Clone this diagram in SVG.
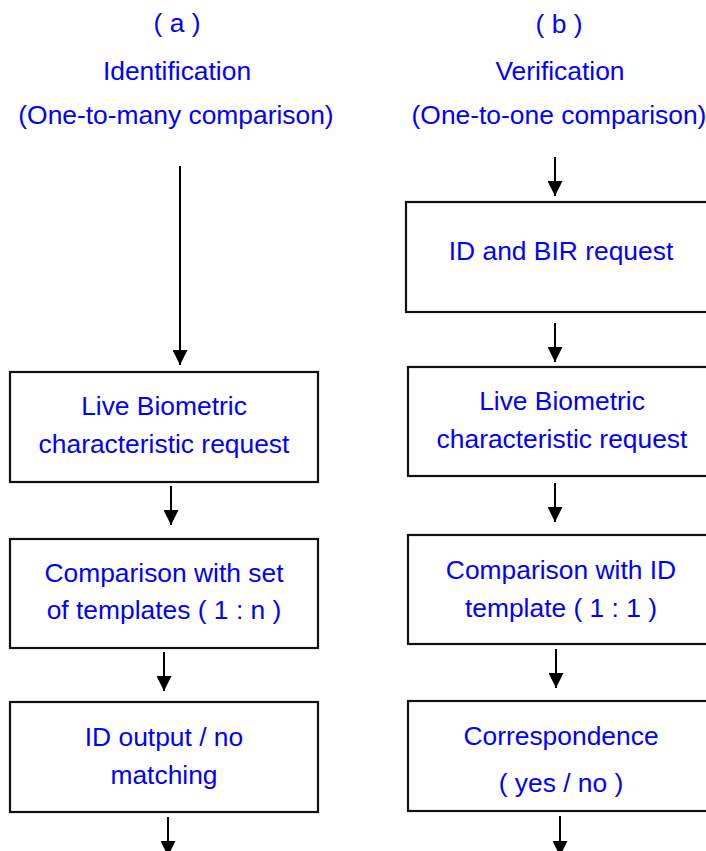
<svg xmlns="http://www.w3.org/2000/svg" width="706" height="851" viewBox="0 0 706 851">
<style>
.box{fill:#fff;stroke:#111;stroke-width:2.2}
.t{font-family:"Liberation Sans",Arial,sans-serif;font-size:26.4px;fill:#0000ff;text-anchor:middle}
.c{stroke:#000;stroke-width:2;fill:none}
</style>
<defs>
<marker id="ah" viewBox="0 0 15 15" refX="15" refY="7.5" markerWidth="15" markerHeight="15" markerUnits="userSpaceOnUse" orient="auto">
<path d="M0,0 L15,7.5 L0,15 Z" fill="#000"/>
</marker>
</defs>
<rect width="706" height="851" fill="#fff"/>
<g id="titles">
<text class="t" x="177" y="32">( a )</text>
<text class="t" x="177" y="80">Identification</text>
<text class="t" x="176" y="124">(One-to-many comparison)</text>
<text class="t" x="559" y="33">( b )</text>
<text class="t" x="560" y="80">Verification</text>
<text class="t" x="559" y="124">(One-to-one comparison)</text>
</g>
<g id="connectors">
<line class="c" x1="180" y1="166" x2="180" y2="365" marker-end="url(#ah)"/>
<line class="c" x1="171" y1="486" x2="171" y2="525" marker-end="url(#ah)"/>
<line class="c" x1="164" y1="652" x2="164" y2="691" marker-end="url(#ah)"/>
<line class="c" x1="168" y1="817" x2="168" y2="856" marker-end="url(#ah)"/>
<line class="c" x1="555" y1="157" x2="555" y2="196" marker-end="url(#ah)"/>
<line class="c" x1="555" y1="323" x2="555" y2="362" marker-end="url(#ah)"/>
<line class="c" x1="555" y1="483" x2="555" y2="522" marker-end="url(#ah)"/>
<line class="c" x1="556" y1="649" x2="556" y2="688" marker-end="url(#ah)"/>
<line class="c" x1="560" y1="816" x2="560" y2="856" marker-end="url(#ah)"/>
</g>
<g id="a-live">
<rect class="box" x="10" y="372" width="308" height="110"/>
<text class="t" x="164" y="415">Live Biometric</text>
<text class="t" x="164" y="453">characteristic request</text>
</g>
<g id="a-compare">
<rect class="box" x="10" y="539" width="308" height="109"/>
<text class="t" x="164" y="582">Comparison with set</text>
<text class="t" x="164" y="619">of templates ( 1 : n )</text>
</g>
<g id="a-output">
<rect class="box" x="10" y="702" width="308" height="110"/>
<text class="t" x="164" y="746">ID output / no</text>
<text class="t" x="164" y="784">matching</text>
</g>
<g id="b-request">
<rect class="box" x="406" y="202" width="312" height="110"/>
<text class="t" x="561" y="260">ID and BIR request</text>
</g>
<g id="b-live">
<rect class="box" x="408" y="367" width="310" height="109"/>
<text class="t" x="562" y="410">Live Biometric</text>
<text class="t" x="562" y="448">characteristic request</text>
</g>
<g id="b-compare">
<rect class="box" x="408" y="535" width="310" height="109"/>
<text class="t" x="561" y="579">Comparison with ID</text>
<text class="t" x="561" y="617">template ( 1 : 1 )</text>
</g>
<g id="b-correspondence">
<rect class="box" x="408" y="701" width="310" height="110"/>
<text class="t" x="561" y="745">Correspondence</text>
<text class="t" x="561" y="792">( yes / no )</text>
</g>
</svg>
